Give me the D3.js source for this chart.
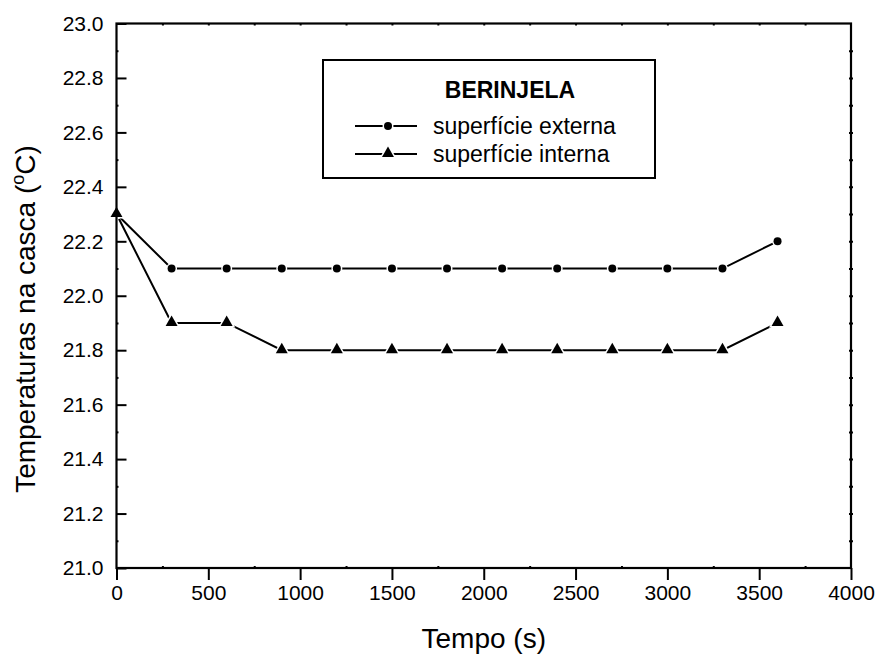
<!DOCTYPE html>
<html><head><meta charset="utf-8">
<script src="https://cdn.jsdelivr.net/npm/d3@7"></script>
<style>body{margin:0;background:#fff}svg{display:block;font-family:Arial,"Liberation Sans",sans-serif}</style>
</head><body>
<svg id="c" width="879" height="657"></svg>
<script>
const times = [0,300,600,900,1200,1500,1800,2100,2400,2700,3000,3300,3600];
const externa = [22.3,22.1,22.1,22.1,22.1,22.1,22.1,22.1,22.1,22.1,22.1,22.1,22.2];
const interna = [22.3,21.9,21.9,21.8,21.8,21.8,21.8,21.8,21.8,21.8,21.8,21.8,21.9];
const xTicks = [0,500,1000,1500,2000,2500,3000,3500,4000];
const yTicks = [21.0,21.2,21.4,21.6,21.8,22.0,22.2,22.4,22.6,22.8,23.0];
const legendTitle = "BERINJELA";
const seriesNames = ["superfície externa","superfície interna"];

const svg = d3.select("#c");
const L=116.5, R=851, T=23.5, B=568;
const x = d3.scaleLinear().domain([0,4000]).range([L,R]);
const y = d3.scaleLinear().domain([21,23]).range([B,T]);

const g = svg.append("g");
// data lines
const line = d3.line().x((d,i)=>x(times[i])).y(d=>y(d));
[externa, interna].forEach(s=>{
  g.append("path").datum(s).attr("d",line).attr("fill","none").attr("stroke","#000").attr("stroke-width",2);
});
const tri = d3.symbol().type(d3.symbolTriangle).size(62);
g.selectAll(".c").data(externa).join("circle")
  .attr("cx",(d,i)=>x(times[i])).attr("cy",d=>y(d)).attr("r",4)
  .attr("fill","#000").attr("stroke","#fff").attr("stroke-width",3).attr("paint-order","stroke");
g.selectAll(".t").data(interna).join("path")
  .attr("d",tri).attr("transform",(d,i)=>`translate(${x(times[i])},${y(d)-0.5})`)
  .attr("fill","#000").attr("stroke","#fff").attr("stroke-width",3).attr("paint-order","stroke");

// axes
const ax = svg.append("g");
// bottom major outward
ax.append("g").attr("transform",`translate(0,${B})`)
  .call(d3.axisBottom(x).tickValues(xTicks).tickSize(12).tickPadding(5).tickFormat(d3.format("d")))
  .call(s=>{s.select(".domain").remove();s.selectAll("line").attr("stroke-width",2);
    s.selectAll("text").attr("font-size",21).attr("font-family","Arial, 'Liberation Sans', sans-serif").attr("fill","#000");});
// bottom minor
ax.append("g").attr("transform",`translate(0,${B})`)
  .call(d3.axisBottom(x).tickValues(d3.range(250,4000,500)).tickSize(-2).tickFormat(""))
  .call(s=>{s.select(".domain").remove();s.selectAll("line").attr("stroke-width",2);});
// left major inward
ax.append("g").attr("transform",`translate(${L},0)`)
  .call(d3.axisLeft(y).tickValues(yTicks).tickSize(-10).tickPadding(13).tickFormat(d3.format(".1f")))
  .call(s=>{s.select(".domain").remove();s.selectAll("line").attr("stroke-width",2);
    s.selectAll("text").attr("font-size",21).attr("font-family","Arial, 'Liberation Sans', sans-serif").attr("fill","#000");});
// left minor
ax.append("g").attr("transform",`translate(${L},0)`)
  .call(d3.axisLeft(y).tickValues(d3.range(21.1,23,0.2)).tickSize(-2).tickFormat(""))
  .call(s=>{s.select(".domain").remove();s.selectAll("line").attr("stroke-width",2);});
// top ticks
ax.append("g").attr("transform",`translate(0,${T})`)
  .call(d3.axisTop(x).tickValues(d3.range(250,4000,250)).tickSize(-2).tickFormat(""))
  .call(s=>{s.select(".domain").remove();s.selectAll("line").attr("stroke-width",2);});
// right ticks
ax.append("g").attr("transform",`translate(${R},0)`)
  .call(d3.axisRight(y).tickValues(d3.range(21.1,23,0.1)).tickSize(2).tickFormat(""))
  .call(s=>{s.select(".domain").remove();s.selectAll("line").attr("stroke-width",2);});
ax.append("g").attr("transform",`translate(${R},0)`)
  .call(d3.axisRight(y).tickValues(d3.range(21.1,23,0.1)).tickSize(-2).tickFormat(""))
  .call(s=>{s.select(".domain").remove();s.selectAll("line").attr("stroke-width",2);});
// frame
ax.append("rect").attr("x",L).attr("y",T).attr("width",R-L).attr("height",B-T)
  .attr("fill","none").attr("stroke","#000").attr("stroke-width",2.2);

// axis titles
svg.append("text").attr("x",(L+R)/2).attr("y",648).attr("text-anchor","middle")
  .attr("font-size",28).text("Tempo (s)");
const yl = svg.append("text").attr("transform","translate(35,319) rotate(-90)")
  .attr("text-anchor","middle").attr("font-size",28);
yl.append("tspan").text("Temperaturas na casca (");
yl.append("tspan").attr("font-size",18).attr("dy",-11).text("o");
yl.append("tspan").attr("dy",11).text("C)");

// legend
const lg = svg.append("g");
lg.append("rect").attr("x",323).attr("y",60).attr("width",332).attr("height",118)
  .attr("fill","#fff").attr("stroke","#000").attr("stroke-width",2);
lg.append("text").attr("x",510).attr("y",98).attr("text-anchor","middle")
  .attr("font-size",23).attr("font-weight","bold").text(legendTitle);
const ly = [126,154];
seriesNames.forEach((n,i)=>{
  lg.append("line").attr("x1",355).attr("x2",417).attr("y1",ly[i]).attr("y2",ly[i])
    .attr("stroke","#000").attr("stroke-width",2);
  if(i===0){
    lg.append("circle").attr("cx",388).attr("cy",ly[i]).attr("r",4).attr("fill","#000")
      .attr("stroke","#fff").attr("stroke-width",3).attr("paint-order","stroke");
  } else {
    lg.append("path").attr("d",tri).attr("transform",`translate(388,${ly[i]-0.5})`).attr("fill","#000")
      .attr("stroke","#fff").attr("stroke-width",3).attr("paint-order","stroke");
  }
  lg.append("text").attr("x",433).attr("y",ly[i]+8).attr("font-size",23).text(n);
});
</script>
</body></html>
